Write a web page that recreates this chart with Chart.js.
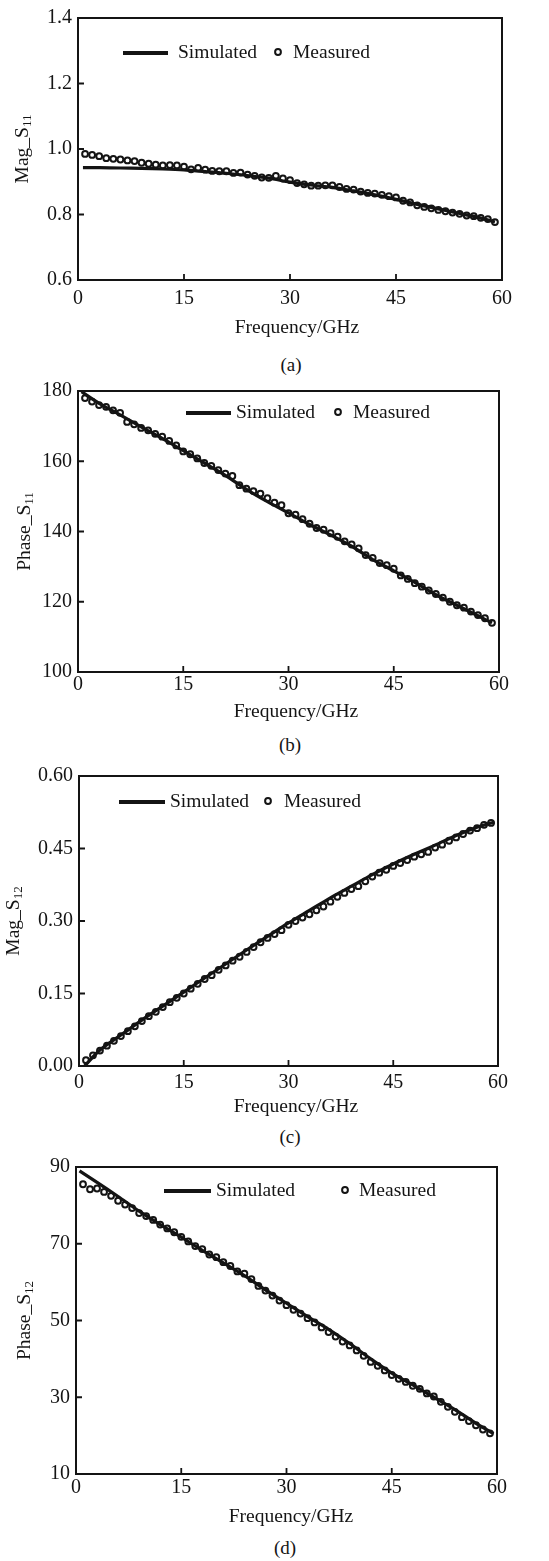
<!DOCTYPE html>
<html>
<head>
<meta charset="utf-8">
<script src="https://cdn.jsdelivr.net/npm/chart.js@4.4.0/dist/chart.umd.min.js"></script>
<style>
  body { margin: 0; background: #fff; }
  #page { position: relative; width: 549px; height: 1561px; overflow: hidden; font-family: "Liberation Serif", serif; color: #141414; }
  #page canvas { position: absolute; left: 0; }
  .cap { position: absolute; left: 0; width: 549px; text-align: center; font-size: 19px; line-height: 20px; }
</style>
</head>
<body>
<div id="page"></div>
<script>
// ---- data ----
const freqTicks = [0, 15, 30, 45, 60];
const measFreq = [1, 2, 3, 4, 5, 6, 7, 8, 9, 10, 11, 12, 13, 14, 15, 16, 17, 18, 19, 20,
  21, 22, 23, 24, 25, 26, 27, 28, 29, 30, 31, 32, 33, 34, 35, 36, 37, 38, 39, 40,
  41, 42, 43, 44, 45, 46, 47, 48, 49, 50, 51, 52, 53, 54, 55, 56, 57, 58, 59];

// (a) Mag_S11
const simFreqA = [0.7, 3, 6, 9, 12, 15, 18, 21, 24, 27, 30, 33, 36, 39, 42, 45, 48, 51, 54, 57, 59];
const simMagS11 = [0.943, 0.943, 0.942, 0.941, 0.939, 0.936, 0.931, 0.926, 0.919, 0.911, 0.899, 0.890, 0.883, 0.872, 0.860, 0.846, 0.831, 0.817, 0.803, 0.789, 0.777];
const measMagS11 = [0.985, 0.982, 0.978, 0.972, 0.970, 0.968, 0.965, 0.963, 0.958, 0.955,
  0.952, 0.950, 0.951, 0.950, 0.946, 0.938, 0.942, 0.937, 0.933, 0.932,
  0.932, 0.927, 0.928, 0.922, 0.918, 0.913, 0.912, 0.918, 0.910, 0.905,
  0.896, 0.892, 0.888, 0.888, 0.889, 0.889, 0.884, 0.878, 0.876, 0.870,
  0.866, 0.864, 0.860, 0.856, 0.852, 0.842, 0.837, 0.828, 0.823, 0.819,
  0.814, 0.810, 0.806, 0.802, 0.797, 0.795, 0.790, 0.786, 0.777];

// (b) Phase_S11
const simFreqB = [0.5, 3, 6, 9, 12, 15, 18, 21, 24, 27, 30, 33, 36, 39, 42, 45, 48, 51, 54, 57, 59];
const simPhaseS11 = [179.8, 176.5, 173.2, 169.8, 166.5, 163.0, 159.5, 156.0, 152.0, 148.5, 145.3, 142.0, 139.0, 135.8, 132.0, 128.8, 125.5, 122.0, 119.0, 116.0, 114.0];
const measPhaseS11 = [178.0, 177.0, 176.0, 175.5, 174.5, 173.8, 171.2, 170.5, 169.5, 168.8,
  167.8, 167.0, 165.8, 164.5, 162.8, 162.0, 160.8, 159.5, 158.7, 157.5,
  156.5, 155.8, 153.2, 152.2, 151.5, 150.8, 149.5, 148.2, 147.5, 145.2,
  144.8, 143.5, 142.2, 141.0, 140.5, 139.5, 138.5, 137.2, 136.3, 135.2,
  133.3, 132.5, 131.0, 130.4, 129.4, 127.5, 126.5, 125.3, 124.3, 123.2,
  122.2, 121.2, 120.0, 119.0, 118.3, 117.2, 116.2, 115.3, 114.0];

// (c) Mag_S12
const simFreqC = [0.8, 3, 6, 9, 12, 15, 18, 21, 24, 27, 30, 33, 36, 39, 42, 45, 48, 51, 54, 57, 59.5];
const simMagS12 = [0.0, 0.033, 0.064, 0.095, 0.124, 0.153, 0.182, 0.211, 0.240, 0.268, 0.296, 0.322, 0.348, 0.372, 0.396, 0.418, 0.438, 0.457, 0.477, 0.494, 0.505];
const measMagS12 = [0.012, 0.022, 0.032, 0.042, 0.052, 0.062, 0.072, 0.082, 0.093, 0.103,
  0.112, 0.122, 0.132, 0.141, 0.150, 0.160, 0.170, 0.180, 0.188, 0.199,
  0.208, 0.218, 0.226, 0.236, 0.246, 0.256, 0.265, 0.273, 0.281, 0.292,
  0.300, 0.307, 0.314, 0.322, 0.330, 0.340, 0.350, 0.358, 0.366, 0.372,
  0.382, 0.392, 0.400, 0.406, 0.414, 0.420, 0.426, 0.433, 0.438, 0.443,
  0.452, 0.458, 0.466, 0.473, 0.480, 0.487, 0.492, 0.499, 0.503];

// (d) Phase_S12
const simFreqD = [0.5, 3, 6, 9, 12, 15, 18, 21, 24, 27, 30, 33, 36, 39, 42, 45, 48, 51, 54, 57, 59.5];
const simPhaseS12 = [89.0, 86.0, 82.3, 78.5, 75.0, 71.7, 68.3, 65.0, 61.7, 58.0, 54.5, 51.0, 47.7, 44.0, 40.0, 36.3, 33.2, 30.0, 26.8, 23.2, 20.5];
const measPhaseS12 = [85.5, 84.2, 84.4, 83.5, 82.5, 81.2, 80.2, 79.3, 78.0, 77.2,
  76.2, 75.0, 74.0, 73.0, 71.8, 70.6, 69.4, 68.6, 67.2, 66.5,
  65.2, 64.2, 62.8, 62.2, 60.8, 59.0, 57.8, 56.5, 55.2, 54.0,
  52.8, 51.8, 50.6, 49.5, 48.2, 47.0, 45.8, 44.5, 43.5, 42.2,
  40.8, 39.2, 38.2, 37.0, 35.8, 34.8, 34.0, 33.0, 32.2, 31.0,
  30.2, 28.8, 27.5, 26.2, 24.8, 23.8, 22.7, 21.6, 20.6];

const seriesNames = ['Simulated', 'Measured'];
const xTitle = 'Frequency/GHz';

// ---- panels: data + layout (page pixel coords) ----
const panels = [
  { cap: '(a)', yName: 'Mag_S', ySub: '11', yMin: 0.6, yMax: 1.4, yStep: 0.2, dec: 1,
    simX: simFreqA, simY: simMagS11, measY: measMagS11,
    geo: { top: 12, bottom: 280, left: 78, right: 502, xPad: 7, yTitleX: 23, xTitleX: 297, xTitleY: 328, capY: 365,
      leg: { x1: 123, x2: 168, y: 53, tx: 178, cx: 278, mx: 293 } } },
  { cap: '(b)', yName: 'Phase_S', ySub: '11', yMin: 100, yMax: 180, yStep: 20, dec: 0,
    simX: simFreqB, simY: simPhaseS11, measY: measPhaseS11,
    geo: { top: 385, bottom: 672, left: 78, right: 499, xPad: 1, yTitleX: 25, xTitleX: 296, xTitleY: 712, capY: 745,
      leg: { x1: 186, x2: 231, y: 413, tx: 236, cx: 338, mx: 353 } } },
  { cap: '(c)', yName: 'Mag_S', ySub: '12', yMin: 0, yMax: 0.6, yStep: 0.15, dec: 2,
    simX: simFreqC, simY: simMagS12, measY: measMagS12,
    geo: { top: 770, bottom: 1066, left: 79, right: 498, xPad: 5, yTitleX: 14, xTitleX: 296, xTitleY: 1107, capY: 1137,
      leg: { x1: 119, x2: 165, y: 802, tx: 170, cx: 268, mx: 284 } } },
  { cap: '(d)', yName: 'Phase_S', ySub: '12', yMin: 10, yMax: 90, yStep: 20, dec: 0,
    simX: simFreqD, simY: simPhaseS12, measY: measPhaseS12,
    geo: { top: 1161, bottom: 1474, left: 76, right: 497, xPad: 2, yTitleX: 25, xTitleX: 291, xTitleY: 1517, capY: 1548,
      leg: { x1: 164, x2: 211, y: 1191, tx: 216, cx: 345, mx: 359 } } }
];

const ink = '#141414';
const fontFam = '"Liberation Serif", serif';

// frame, inward ticks, titles and legend
const decorPlugin = {
  id: 'decor',
  afterDatasetsDraw(chart, args, o) {
    const ctx = chart.ctx, a = chart.chartArea, g = o.geo, off = o.offset;
    const xs = chart.scales.x, ys = chart.scales.y;
    ctx.save();
    ctx.strokeStyle = ink;
    ctx.lineWidth = 2;
    ctx.strokeRect(a.left, a.top, a.right - a.left, a.bottom - a.top);
    ctx.lineWidth = 1.8;
    ctx.beginPath();
    xs.ticks.forEach(t => {
      if (t.value <= xs.min || t.value >= xs.max) return;
      const px = xs.getPixelForValue(t.value);
      ctx.moveTo(px, a.bottom); ctx.lineTo(px, a.bottom - 6);
    });
    ys.ticks.forEach(t => {
      if (t.value <= ys.min + 1e-9 || t.value >= ys.max - 1e-9) return;
      const py = ys.getPixelForValue(t.value);
      ctx.moveTo(a.left, py); ctx.lineTo(a.left + 6, py);
    });
    ctx.stroke();

    ctx.fillStyle = ink;
    ctx.font = '19.5px ' + fontFam;
    ctx.textBaseline = 'middle';
    // x title
    ctx.textAlign = 'center';
    ctx.fillText(xTitle, g.xTitleX, g.xTitleY - off);
    // y title with subscript
    const cy = (a.top + a.bottom) / 2;
    ctx.save();
    ctx.translate(g.yTitleX, cy);
    ctx.rotate(-Math.PI / 2);
    const w1 = ctx.measureText(o.yName).width;
    ctx.font = '13px ' + fontFam;
    const w2 = ctx.measureText(o.ySub).width;
    const x0 = -(w1 + w2) / 2;
    ctx.textAlign = 'left';
    ctx.font = '19.5px ' + fontFam;
    ctx.fillText(o.yName, x0, 0);
    ctx.font = '13px ' + fontFam;
    ctx.fillText(o.ySub, x0 + w1, 5);
    ctx.restore();

    // legend
    const L = g.leg, ly = L.y - off;
    const ds = chart.data.datasets;
    ctx.lineWidth = 4;
    ctx.beginPath(); ctx.moveTo(L.x1, ly); ctx.lineTo(L.x2, ly); ctx.stroke();
    ctx.font = '19.5px ' + fontFam;
    ctx.textAlign = 'left';
    ctx.fillText(ds[0].label, L.tx, ly);
    ctx.lineWidth = 2;
    ctx.beginPath(); ctx.arc(L.cx, ly - 1, 2.9, 0, Math.PI * 2); ctx.stroke();
    ctx.fillText(ds[1].label, L.mx, ly);
    ctx.restore();
  }
};

const page = document.getElementById('page');
panels.forEach(p => {
  const g = p.geo;
  const canvasTop = g.top - 12;
  const canvasH = g.xTitleY + 16 - canvasTop;
  const xh = canvasH - (g.bottom - canvasTop);
  const cv = document.createElement('canvas');
  cv.width = 549; cv.height = canvasH;
  cv.style.top = canvasTop + 'px';
  page.appendChild(cv);

  const cap = document.createElement('div');
  cap.className = 'cap';
  cap.textContent = p.cap;
  cap.style.top = (g.capY - 10) + 'px';
  cap.style.left = (g.xTitleX - 6 - 274.5) + 'px';
  page.appendChild(cap);

  new Chart(cv, {
    type: 'scatter',
    data: {
      datasets: [
        { label: seriesNames[0], type: 'line',
          data: p.simX.map((x, i) => ({ x: x, y: p.simY[i] })),
          borderColor: ink, borderWidth: 3.2, pointRadius: 0, tension: 0.3, fill: false, order: 2 },
        { label: seriesNames[1],
          data: measFreq.map((x, i) => ({ x: x, y: p.measY[i] })),
          showLine: false, pointStyle: 'circle', pointRadius: 2.9, borderWidth: 2,
          borderColor: ink, backgroundColor: 'rgba(255,255,255,0)', order: 1 }
      ]
    },
    options: {
      responsive: false,
      animation: false,
      events: [],
      layout: { padding: { top: 12, right: 549 - g.right, bottom: 0, left: 0 } },
      plugins: {
        legend: { display: false },
        tooltip: { enabled: false },
        decor: { geo: g, offset: canvasTop, yName: p.yName, ySub: p.ySub }
      },
      scales: {
        x: {
          type: 'linear', min: 0, max: 60,
          afterBuildTicks: s => { s.ticks = freqTicks.map(v => ({ value: v })); },
          afterFit: s => { s.height = xh; },
          grid: { display: false, drawTicks: false, tickLength: 0 },
          border: { display: false },
          ticks: { color: ink, font: { family: fontFam, size: 20 }, padding: g.xPad, maxRotation: 0, autoSkip: false }
        },
        y: {
          type: 'linear', min: p.yMin, max: p.yMax,
          afterFit: s => { s.width = g.left; },
          grid: { display: false, drawTicks: false, tickLength: 0 },
          border: { display: false },
          ticks: { color: ink, font: { family: fontFam, size: 20 }, padding: 6, stepSize: p.yStep,
            callback: v => Number(v).toFixed(p.dec) }
        }
      }
    },
    plugins: [decorPlugin]
  });
});
</script>
</body>
</html>
